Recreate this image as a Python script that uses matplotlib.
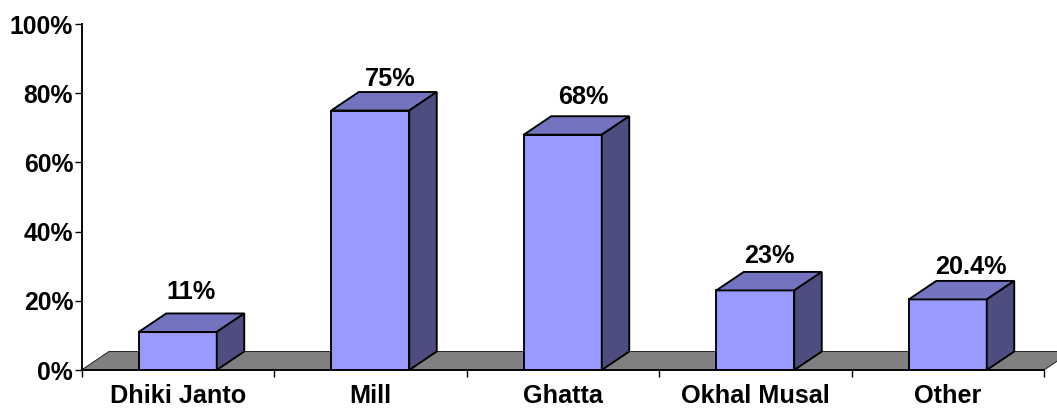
import matplotlib
matplotlib.use("Agg")
import matplotlib.pyplot as plt
from matplotlib.patches import Polygon

categories = ["Dhiki Janto", "Mill", "Ghatta", "Okhal Musal", "Other"]
values = [11, 75, 68, 23, 20.4]
labels = ["11%", "75%", "68%", "23%", "20.4%"]
y_ticks = [0, 20, 40, 60, 80, 100]
y_tick_labels = ["0%", "20%", "40%", "60%", "80%", "100%"]
# hand placement of the value labels relative to the bar's back top edge (px)
label_dx_px = [0, 6, 7, 0, 9.5]
label_gap_px = [14, 6, 12, 9, 7]

W, H = 1057, 408
plt.rcParams["font.family"] = ["Liberation Sans", "DejaVu Sans"]
fig = plt.figure(figsize=(W / 100, H / 100), dpi=100, facecolor="white")
L, R, T, B = 81.5, 1044, 24, 370
ax = fig.add_axes([L / W, 1 - B / H, (R - L) / W, (B - T) / H])
ax.set_xlim(0, len(categories))
ax.set_ylim(0, 100)

px_x = len(categories) / (R - L)
px_y = 100 / (B - T)
dx = 27.5 * px_x
dy = 18.5 * px_y
bw = 78 * px_x
lw = 1.35
FS = 18.2
PT = 72 / 100

ax.add_patch(Polygon([(0, 0), (dx, dy), (len(categories) + dx, dy), (len(categories), 0)],
                     closed=True, facecolor="#808080", edgecolor="#222222", lw=0.7,
                     clip_on=False, zorder=1))

positions = [i + 0.5 for i in range(len(categories))]
ax.bar(positions, values, width=bw, color="#9999FF", edgecolor="black",
       linewidth=lw, zorder=3)
for x, v, lab, ldx, gap in zip(positions, values, labels, label_dx_px, label_gap_px):
    x0, x1 = x - bw / 2, x + bw / 2
    ax.add_patch(Polygon([(x0, v), (x0 + dx, v + dy), (x1 + dx, v + dy), (x1, v)],
                         closed=True, facecolor="#7373BF", edgecolor="black",
                         lw=lw, zorder=3, clip_on=False))
    ax.add_patch(Polygon([(x1, 0), (x1 + dx, dy), (x1 + dx, v + dy), (x1, v)],
                         closed=True, facecolor="#4D4D80", edgecolor="black",
                         lw=lw, zorder=3, clip_on=False))
    ax.annotate(lab, (x + dx / 2, v + dy), xytext=(ldx * PT, gap * PT),
                textcoords="offset points", ha="center", va="baseline",
                fontsize=FS, fontweight="bold", color="black",
                zorder=5, annotation_clip=False)

for s in ("top", "right"):
    ax.spines[s].set_visible(False)
for s in ("left", "bottom"):
    ax.spines[s].set_linewidth(1.35)
    ax.spines[s].set_zorder(4)

ax.set_yticks(y_ticks)
ax.set_yticklabels(y_tick_labels, fontsize=17.8, fontweight="bold")
ax.set_xticks(range(len(categories) + 1))
ax.set_xticklabels([])
ax.set_xticks(positions, minor=True)
ax.set_xticklabels(categories, minor=True, fontsize=FS, fontweight="bold")
ax.tick_params(axis="y", length=5, width=1, pad=1)
ax.tick_params(axis="x", which="major", length=5, width=1)
ax.tick_params(axis="x", which="minor", length=0, pad=10)

fig.savefig("out.png", dpi=100, facecolor="white")
